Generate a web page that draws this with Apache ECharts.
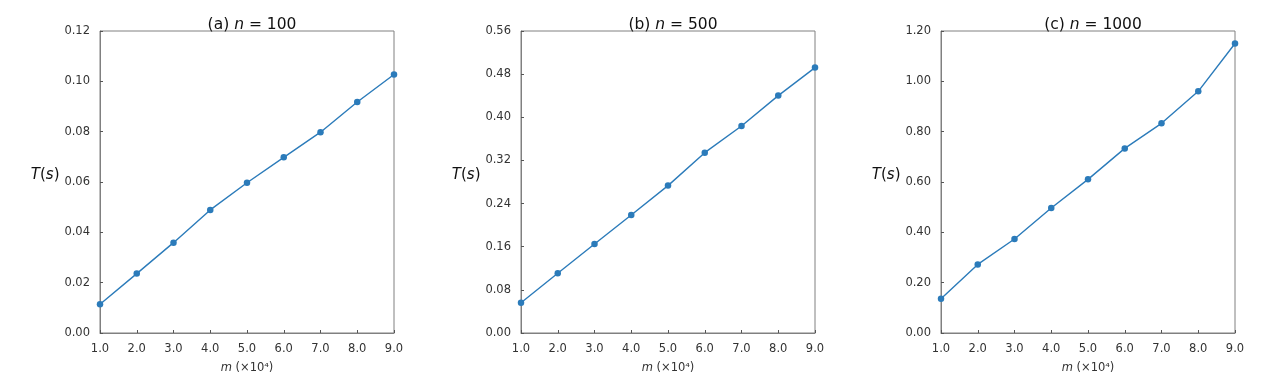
<!DOCTYPE html>
<html>
<head>
<meta charset="utf-8">
<script src="https://cdn.jsdelivr.net/npm/echarts@6/dist/echarts.min.js"></script>
<style>
html,body{margin:0;padding:0;background:#fff;}
#chart{width:1269px;height:379px;}
</style>
</head>
<body>
<div id="chart"></div>
<script>
const mValues = [1, 2, 3, 4, 5, 6, 7, 8, 9];
const tN100 = [0.0114, 0.0236, 0.0359, 0.0489, 0.0597, 0.0698, 0.0798, 0.0918, 0.1027];
const tN500 = [0.0562, 0.1107, 0.1650, 0.2189, 0.2733, 0.3344, 0.3839, 0.4402, 0.4921];
const tN1000 = [0.1362, 0.2725, 0.3734, 0.4965, 0.6105, 0.7336, 0.8332, 0.9603, 1.1502];
const panelLetters = ['(a) ', '(b) ', '(c) '];
const panelN = ['100', '500', '1000'];
const yMax = [0.12, 0.56, 1.20];
const yStep = [0.02, 0.08, 0.20];

const seriesData = [tN100, tN500, tN1000];
const gridLefts = [100, 521, 941];
const gridWidth = 294;
const font = 'DejaVu Sans';
const chart = echarts.init(document.getElementById('chart'), null, {renderer: 'canvas'});

const grids = [], xAxes = [], yAxes = [], series = [], titles = [];
for (let i = 0; i < 3; i++) {
  grids.push({left: gridLefts[i], top: 31, width: gridWidth, bottom: 42, show: true,
    borderColor: '#808080', borderWidth: 1, backgroundColor: 'transparent', containLabel: false});
  xAxes.push({
    type: 'value', gridIndex: i, min: 1, max: 9, interval: 1,
    name: '{it|m} ({n|×10⁴})', nameLocation: 'middle', nameGap: 29,
    nameTextStyle: {fontFamily: font, fontSize: 11.5, color: '#333',
      rich: {it: {fontStyle: 'italic', fontFamily: font, fontSize: 11.5, color: '#333'},
             n: {fontFamily: font, fontSize: 11.5, color: '#333'}}},
    axisLine: {show: true, lineStyle: {color: '#808080', width: 1}},
    axisTick: {show: true, inside: true, length: 3, lineStyle: {color: '#555'}},
    axisLabel: {fontFamily: font, fontSize: 11.5, color: '#333', margin: 10,
      formatter: v => v.toFixed(1)},
    splitLine: {show: false}
  });
  yAxes.push({
    type: 'value', gridIndex: i, min: 0, max: yMax[i], interval: yStep[i],
    name: '{it|T}({it|s})', nameLocation: 'middle', nameGap: 39, nameRotate: 0,
    nameTextStyle: {fontFamily: font, fontSize: 15, color: '#111', padding: [0, 0, 14, 0],
      rich: {it: {fontStyle: 'italic', fontFamily: font, fontSize: 15, color: '#111'}}},
    axisLine: {show: true, lineStyle: {color: '#808080', width: 1}},
    axisTick: {show: true, inside: true, length: 3, lineStyle: {color: '#555'}},
    axisLabel: {fontFamily: font, fontSize: 11.5, color: '#333', margin: 10,
      formatter: v => v.toFixed(2)},
    splitLine: {show: false}
  });
  series.push({
    type: 'line', xAxisIndex: i, yAxisIndex: i,
    data: mValues.map((m, k) => [m, seriesData[i][k]]),
    symbol: 'circle', symbolSize: 6.5, showSymbol: true,
    lineStyle: {color: '#2b7bba', width: 1.4},
    itemStyle: {color: '#2b7bba'},
    clip: false, animation: false
  });
  titles.push({
    text: panelLetters[i] + '{it|n} = ' + panelN[i],
    left: gridLefts[i] + gridWidth / 2, top: 12, textAlign: 'center',
    textStyle: {fontFamily: font, fontSize: 15.5, fontWeight: 'normal', color: '#111',
      rich: {it: {fontStyle: 'italic', fontFamily: font, fontSize: 15.5, color: '#111'}}}
  });
}

chart.setOption({
  animation: false,
  backgroundColor: '#fff',
  title: titles,
  grid: grids,
  xAxis: xAxes,
  yAxis: yAxes,
  series: series
});
</script>
</body>
</html>
